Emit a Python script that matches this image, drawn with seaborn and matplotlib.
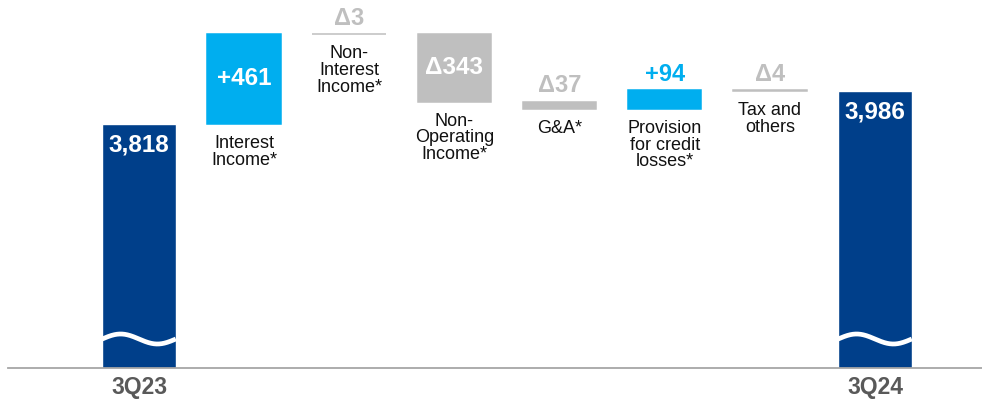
import numpy as np
import pandas as pd
import matplotlib
matplotlib.use("Agg")
import matplotlib.pyplot as plt
import seaborn as sns

# Net income bridge, 3Q23 -> 3Q24
steps = ["3Q23", "Interest\nIncome*", "Non-\nInterest\nIncome*",
         "Non-\nOperating\nIncome*", "G&A*", "Provision\nfor credit\nlosses*",
         "Tax and\nothers", "3Q24"]
kinds = ["total", "up", "down", "down", "down", "up", "down", "total"]
values = [3818, 461, 3, 343, 37, 94, 4, 3986]
value_labels = ["3,818", "+461", "Δ3", "Δ343", "Δ37", "+94", "Δ4", "3,986"]
tick_labels = ["3Q23", "3Q24"]

NAVY = "#003F8A"
CYAN = "#00AEEF"
GREY = "#BFBFBF"
kind_color = {"total": NAVY, "up": CYAN, "down": GREY}

sns.set_theme(style="white")
plt.rcParams["font.family"] = ["Liberation Sans", "DejaVu Sans"]

fig = plt.figure(figsize=(9.82, 4.0), dpi=100)
ax = fig.add_axes([8 / 982, 32 / 400, 974 / 982, 368 / 400])

# running totals for the floating bars
bottoms, tops = [], []
level = None
for k, v in zip(kinds, values):
    if k == "total":
        level = v
        bottoms.append(0)
        tops.append(v)
    elif k == "up":
        bottoms.append(level)
        level += v
        tops.append(level)
    else:
        tops.append(level)
        level -= v
        bottoms.append(level)

BAR_W = 0.70

# the two period totals
totals = pd.DataFrame({"step": [s for s, k in zip(steps, kinds) if k == "total"],
                       "value": [v for v, k in zip(values, kinds) if k == "total"]})
sns.barplot(data=totals, x="step", y="value", order=steps, color=NAVY,
            saturation=1, width=BAR_W, ax=ax, errorbar=None)

# the floating changes
for i, k in enumerate(kinds):
    if k == "total":
        continue
    ax.bar(i, tops[i] - bottoms[i], bottom=bottoms[i], width=BAR_W,
           color=kind_color[k], edgecolor=kind_color[k], linewidth=1.1, zorder=2)

ax.set_xlim(-1.246, 8.018)
ax.set_ylim(2573, 4451)

# labels
for i, k in enumerate(kinds):
    h_px = (tops[i] - bottoms[i]) * 0.196
    if k == "total":
        ax.annotate(value_labels[i], (i, tops[i]), xytext=(0, -7),
                    textcoords="offset points", ha="center", va="top",
                    color="white", fontsize=17.5, fontweight="bold")
        continue
    if h_px > 40:
        ax.text(i, (tops[i] + bottoms[i]) / 2, value_labels[i], ha="center",
                va="center", color="white", fontsize=17.5, fontweight="bold")
    else:
        ax.annotate(value_labels[i], (i, tops[i]), xytext=(0, 3),
                    textcoords="offset points", ha="center", va="bottom",
                    color=kind_color[k], fontsize=17, fontweight="bold")
    ax.annotate(steps[i], (i, bottoms[i]), xytext=(0, -8),
                textcoords="offset points", ha="center", va="top",
                color="#111111", fontsize=13, linespacing=0.98)

# axis-break waves across the total bars
trans = ax.get_xaxis_transform()
t = np.linspace(0, 1, 200)
for i, k in enumerate(kinds):
    if k != "total":
        continue
    xs = i - BAR_W / 2 + t * BAR_W
    ys = (29 + 5 * np.sin(2 * np.pi * t)) / 368
    ax.plot(xs, ys, color="white", lw=3.4, solid_capstyle="butt",
            transform=trans, zorder=3)

ax.set_xticks([i for i, k in enumerate(kinds) if k == "total"])
ax.set_xticklabels(tick_labels, fontsize=16.5, fontweight="bold", color="#595959")
ax.tick_params(axis="x", length=0, pad=6)
ax.set_yticks([])
ax.set_xlabel("")
ax.set_ylabel("")
for side in ["top", "right", "left"]:
    ax.spines[side].set_visible(False)
ax.spines["bottom"].set_color("#A6A6A6")
ax.spines["bottom"].set_linewidth(1.3)

fig.savefig("out.png", dpi=100)
